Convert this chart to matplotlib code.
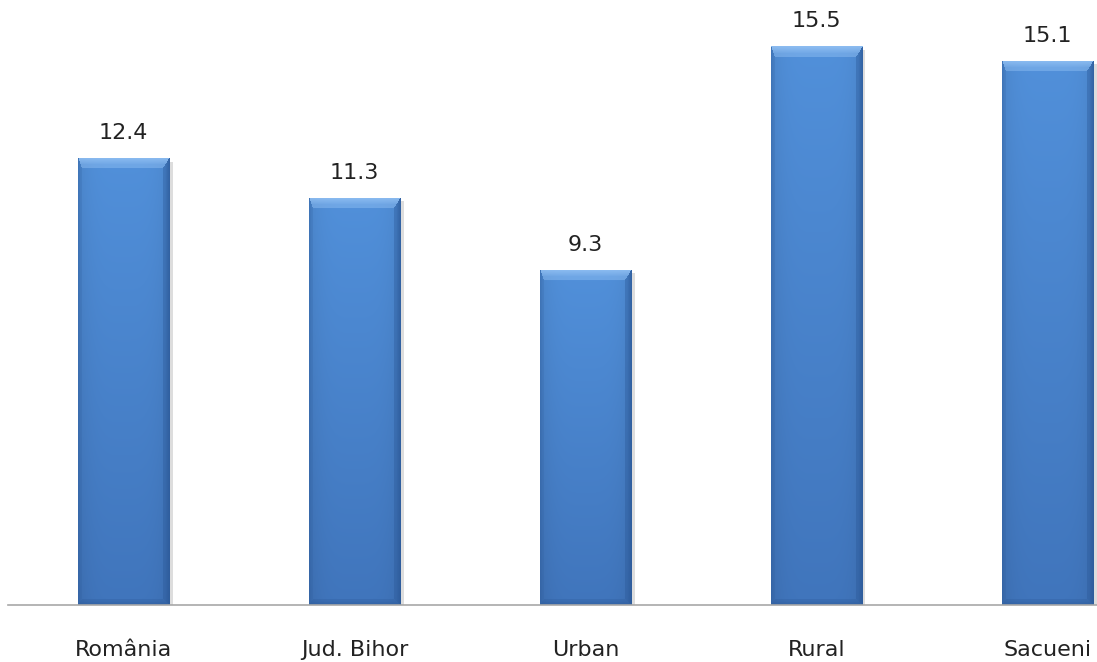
import numpy as np
import matplotlib
matplotlib.use("Agg")
import matplotlib.pyplot as plt
from matplotlib.colors import to_rgb

categories = ["România", "Jud. Bihor", "Urban", "Rural", "Sacueni"]
values = [12.4, 11.3, 9.3, 15.5, 15.1]
value_labels = ["12.4", "11.3", "9.3", "15.5", "15.1"]

W, H, DPI = 1097, 662, 100
fig = plt.figure(figsize=(W / DPI, H / DPI), dpi=DPI)
ax_left, ax_bottom = 8 / W, 57 / H
ax_w, ax_h = 1 - ax_left, 605 / H
ax = fig.add_axes([ax_left, ax_bottom, ax_w, ax_h])

x = np.arange(len(categories))
px_per_cat = 231.0
xmax = -0.5 + (W - 8) / px_per_cat
ymax = 605 / 36.05

bar_w = 92 / px_per_cat
bars = ax.bar(x, values, width=bar_w, color="#4A83CE", zorder=2)
ax.set_xlim(-0.5, xmax)
ax.set_ylim(0, ymax)

top_c = np.array(to_rgb("#5190DA"))
bot_c = np.array(to_rgb("#4075BC"))
light = np.array(to_rgb("#94C2F4"))
dark = np.array(to_rgb("#2A5796"))

def bevel_image(wp, hp, bl=4, br=7, bt=11, bb=6):
    wp, hp = int(round(wp)), int(round(hp))
    xx = np.arange(wp)[None, :].repeat(hp, 0).astype(float)
    yy = np.arange(hp)[:, None].repeat(wp, 1).astype(float)
    v = (yy / max(hp - 1, 1))[..., None]
    img = top_c * (1 - v) + bot_c * v
    t = np.abs((xx + 0.5) / wp - 0.5) * 2
    img = img * (1 - 0.08 * t[..., None] ** 4)
    nl = (xx + 0.5) / bl
    nr = (wp - xx - 0.5) / br
    nt = (yy + 0.5) / bt
    nb = (hp - yy - 0.5) / bb
    stack = np.stack([nt, nl, nr, nb], 0)
    side = np.argmin(stack, 0)
    nmin = np.min(stack, 0)
    inb = nmin < 1
    f = np.clip(1 - nmin, 0, 1)[..., None] ** 0.6
    f = np.maximum(f, inb[..., None] * 0.5)
    out = img.copy()
    for s, col, strength in [(0, light, 0.9), (1, dark, 0.35), (2, dark, 0.75), (3, dark, 0.55)]:
        m = (inb & (side == s))[..., None]
        out = np.where(m, img * (1 - strength * f) + col * strength * f, out)
    return np.clip(out, 0, 1)

fig.canvas.draw()
for b in bars:
    bbx = b.get_window_extent()
    img = bevel_image(bbx.width, bbx.height)
    im = ax.imshow(img, extent=(b.get_x(), b.get_x() + b.get_width(), 0, b.get_height()),
                   aspect="auto", zorder=3, interpolation="bilinear", origin="upper")
    im.set_clip_path(b)
    sh = plt.Rectangle((b.get_x() + b.get_width(), 0), 3 / px_per_cat, b.get_height() - 0.1,
                       color="#DDDDDD", zorder=1, lw=0)
    ax.add_patch(sh)
ax.set_xlim(-0.5, xmax)
ax.set_ylim(0, ymax)

for xi, v, lab in zip(x, values, value_labels):
    ax.annotate(lab, (xi, v), xytext=(0, 19 * 72 / DPI), textcoords="offset points",
                ha="center", va="baseline", fontsize=16, color="#222222", family="DejaVu Sans")

for xi, lab in zip(x, categories):
    ax.annotate(lab, (xi, 0), xycoords=("data", "axes fraction"),
                xytext=(0, -51 * 72 / DPI), textcoords="offset points",
                ha="center", va="baseline", fontsize=16, color="#222222", family="DejaVu Sans")

for s in ["top", "right", "left"]:
    ax.spines[s].set_visible(False)
ax.spines["bottom"].set_color("#A8A8A8")
ax.spines["bottom"].set_linewidth(1.2)
ax.spines["bottom"].set_zorder(4)
ax.set_yticks([])
ax.set_xticks([])

fig.savefig("out.png", dpi=DPI)
